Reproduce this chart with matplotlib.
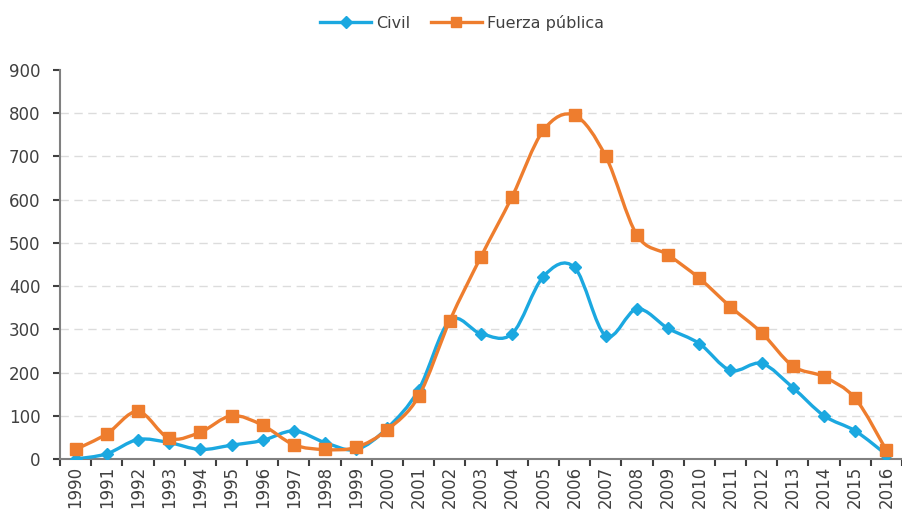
import numpy as np
import matplotlib
matplotlib.use("Agg")
import matplotlib.pyplot as plt
from matplotlib.path import Path
from matplotlib.patches import PathPatch
from matplotlib.lines import Line2D

years = [str(y) for y in range(1990, 2017)]
civil = [0, 12, 45, 38, 22, 32, 43, 65, 38, 22, 72, 160, 320, 290, 290, 422,
         443, 285, 347, 302, 267, 205, 221, 165, 100, 65, 10]
fuerza = [22, 58, 110, 48, 62, 100, 78, 33, 22, 27, 68, 145, 320, 468, 607, 760,
          795, 700, 518, 472, 418, 352, 292, 215, 190, 140, 20]

blue = '#1BA8E0'
orange = '#EE7D2E'
text_col = '#404040'


def smooth_path(xs, ys):
    # excel style smoothed line: cubic bezier through every point
    n = len(xs)
    verts = [(xs[0], ys[0])]
    codes = [Path.MOVETO]
    for i in range(n - 1):
        p0 = max(i - 1, 0)
        p3 = min(i + 2, n - 1)
        c1 = (xs[i] + (xs[i + 1] - xs[p0]) / 6, ys[i] + (ys[i + 1] - ys[p0]) / 6)
        c2 = (xs[i + 1] - (xs[p3] - xs[i]) / 6, ys[i + 1] - (ys[p3] - ys[i]) / 6)
        verts += [c1, c2, (xs[i + 1], ys[i + 1])]
        codes += [Path.CURVE4] * 3
    return Path(verts, codes)


fig = plt.figure(figsize=(9.02, 5.12), dpi=100)
ax = fig.add_axes([0.0665, 0.1035, 0.9335, 0.76])

x = np.arange(len(years))
for vals, col, mk, ms, z in [(civil, blue, 'D', 6, 3), (fuerza, orange, 's', 8, 4)]:
    ax.add_patch(PathPatch(smooth_path(x, vals), facecolor='none', edgecolor=col,
                           lw=2.4, zorder=z, capstyle='round'))
    ax.plot(x, vals, linestyle='none', marker=mk, markersize=ms, color=col, zorder=z)

ax.set_xlim(-0.5, len(years) - 0.5)
ax.set_ylim(0, 900)
ax.set_yticks(range(0, 1000, 100))
for v in range(100, 900, 100):
    ax.axhline(v, color='#dcdcdc', lw=1, ls=(0, (6, 4)), zorder=1)

ax.set_xticks(x)
ax.set_xticklabels(years, rotation=90)
ax.set_xticks(np.arange(-0.5, len(years), 1), minor=True)
ax.tick_params(axis='x', which='major', length=0, pad=5, labelsize=12, labelcolor=text_col)
ax.tick_params(axis='x', which='minor', length=5, width=1.5, color='#404040', direction='out')
ax.tick_params(axis='y', length=5, width=1.5, color='#404040', labelsize=12,
               labelcolor=text_col, pad=9)

for s in ['top', 'right']:
    ax.spines[s].set_visible(False)
ax.spines['left'].set_color('#808080')
ax.spines['left'].set_linewidth(1.5)
ax.spines['bottom'].set_color('#808080')
ax.spines['bottom'].set_linewidth(1.5)

handles = [Line2D([], [], color=blue, lw=2.4, marker='D', markersize=6),
           Line2D([], [], color=orange, lw=2.4, marker='s', markersize=7)]
fig.legend(handles, ['Civil', 'Fuerza pública'], loc='center', bbox_to_anchor=(0.512, 0.955),
           ncol=2, frameon=False, fontsize=11.5, handlelength=3.2, handletextpad=0.3,
           columnspacing=1.3, labelcolor=text_col)

fig.savefig('out.png', dpi=100)
